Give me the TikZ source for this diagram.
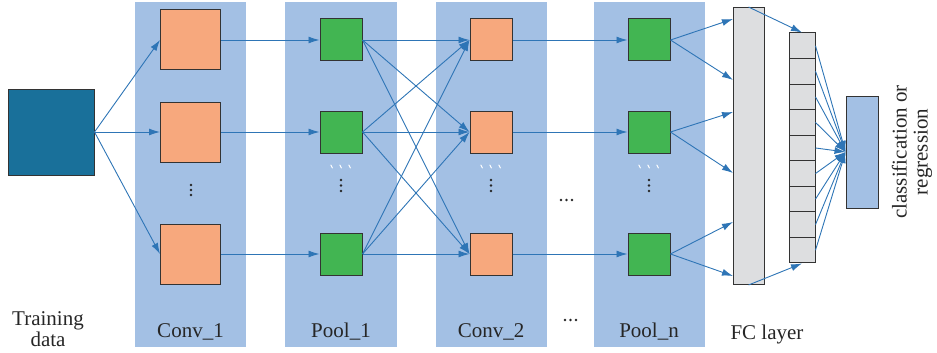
\documentclass[tikz,border=0pt]{standalone}
\usepackage{fontspec}
\setmainfont{Liberation Serif}
\newfontfamily\labfont{Liberation Serif}
\usetikzlibrary{arrows.meta}
\definecolor{band}{HTML}{A3C0E4}
\definecolor{conv}{HTML}{F7A87D}
\definecolor{pool}{HTML}{42B552}
\definecolor{tealbox}{HTML}{19709A}
\definecolor{fcg}{HTML}{DDDEE0}
\definecolor{arr}{HTML}{2E75B6}
\definecolor{edgec}{HTML}{333333}
\begin{document}
\begin{tikzpicture}[x=1pt,y=-1pt,
  sq/.style={draw=edgec, line width=1pt, minimum size=#1, inner sep=0pt},
  convbox/.style={sq=#1, fill=conv},
  poolbox/.style={sq=42pt, fill=pool},
  cell/.style={draw=edgec, line width=1pt, fill=fcg, minimum width=26pt, minimum height=25.55pt, inner sep=0pt},
  con/.style={draw=arr, line width=0.9pt, -{Latex[length=11pt,width=7pt]}},
  lab/.style={font=\labfont\fontsize{21}{21}\selectfont, text=black!85, inner sep=0pt},
  dotc/.style={fill=black!85},
  tick/.style={draw=white, line width=1pt, line cap=round}]
\useasboundingbox (0,0) rectangle (937,353);
% bands
\fill[band] (135,2) rectangle (246,347);
\fill[band] (285,2) rectangle (397,347);
\fill[band] (436,2) rectangle (547,347);
\fill[band] (594,2) rectangle (705,347);
% training data
\node[sq=86pt, fill=tealbox] (td) at (51,132) {};
% conv1
\node[convbox=60pt] (c1a) at (190.5,40) {};
\node[convbox=60pt] (c1b) at (190.5,132) {};
\node[convbox=60pt] (c1c) at (190.5,254) {};
% pool1
\node[poolbox] (p1a) at (341,40) {};
\node[poolbox] (p1b) at (341,132) {};
\node[poolbox] (p1c) at (341,254) {};
% conv2
\node[convbox=42pt] (c2a) at (491,40) {};
\node[convbox=42pt] (c2b) at (491,132) {};
\node[convbox=42pt] (c2c) at (491,254) {};
% pooln
\node[poolbox] (pna) at (649,40) {};
\node[poolbox] (pnb) at (649,132) {};
\node[poolbox] (pnc) at (649,254) {};
% FC
\node[draw=edgec, line width=1pt, fill=fcg, minimum width=31pt, minimum height=277pt, inner sep=0pt] (fc) at (748.5,146) {};
\foreach \i in {1,...,9}{
  \node[cell] (v\i) at (802,{33+12.775+(\i-1)*25.55}) {};
}
\node[draw=edgec, line width=1pt, fill=band, minimum width=32pt, minimum height=112pt, inner sep=0pt] (out) at (862,152) {};
% dots
\foreach \y in {185,190,195}{ \fill[dotc] (191,\y) circle (1.4); }
\foreach \x in {341,491,649}{
  \foreach \y in {180,185.5,191}{ \fill[dotc] (\x,\y) circle (1.4); }
  \foreach \dx in {-9,0,9}{ \draw[tick] (\x+\dx-1.2,165) -- (\x+\dx+0.4,168); }
}
\foreach \x in {561,566.5,572}{ \fill[dotc] (\x,200) circle (1.4); }
\foreach \x in {565,570.5,576}{ \fill[dotc] (\x,320) circle (1.4); }
% connectors
\draw[con] (td.east) -- (c1a.west);
\draw[con] (td.east) -- (c1b.west);
\draw[con] (td.east) -- (c1c.west);
\draw[con] (c1a.east) -- (p1a.west);
\draw[con] (c1b.east) -- (p1b.west);
\draw[con] (c1c.east) -- (p1c.west);
\foreach \s in {p1a,p1b,p1c}{
  \foreach \t in {c2a,c2b,c2c}{
    \draw[con] (\s.east) -- (\t.west);
  }
}
\draw[con] (c2a.east) -- (pna.west);
\draw[con] (c2b.east) -- (pnb.west);
\draw[con] (c2c.east) -- (pnc.west);
\coordinate (f1) at (733,19);
\coordinate (f2) at (733,80);
\coordinate (f3) at (733,112);
\coordinate (f4) at (733,173);
\coordinate (f5) at (733,222);
\coordinate (f6) at (733,276);
\draw[con] (pna.east) -- (f1);
\draw[con] (pna.east) -- (f2);
\draw[con] (pnb.east) -- (f3);
\draw[con] (pnb.east) -- (f4);
\draw[con] (pnc.east) -- (f5);
\draw[con] (pnc.east) -- (f6);
\draw[con] (fc.north) -- (v1.north);
\draw[con] (fc.south) -- (v9.south);
\foreach \i in {1,...,9}{
  \draw[con] (v\i.east) -- (out.west);
}
% labels
\node[lab, align=center] (lt) at (48,329) {Training\\data};
\node[lab, anchor=base] (l1) at (190.5,337) {Conv\_1};
\node[lab, anchor=base] (l2) at (341,337) {Pool\_1};
\node[lab, anchor=base] (l3) at (491,337) {Conv\_2};
\node[lab, anchor=base] (l4) at (649,337) {Pool\_n};
\node[lab, anchor=base] (l5) at (767,339) {FC layer};
\node[lab, align=center, rotate=90] (lc) at (912,152) {classification or\\regression};
\end{tikzpicture}
\end{document}
